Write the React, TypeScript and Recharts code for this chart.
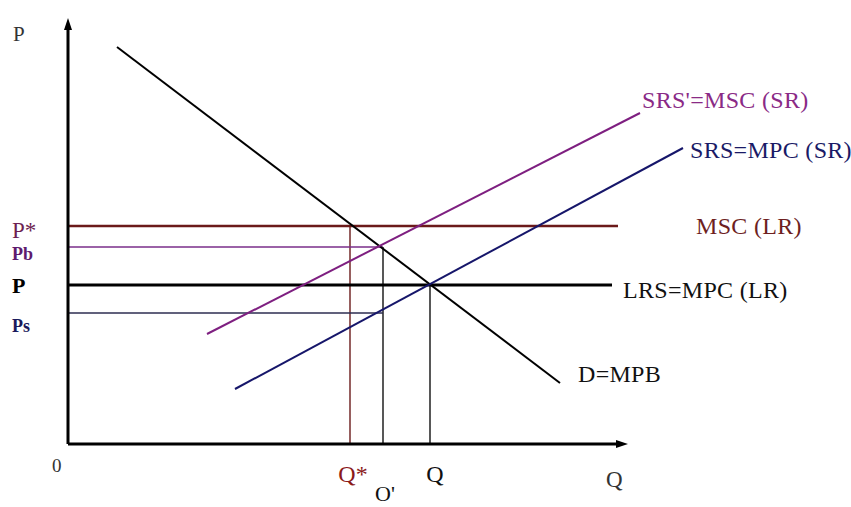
import { ComposedChart, Line, XAxis, YAxis, ReferenceLine } from "recharts";

// price levels (P axis units)
const P_STAR = 21.8;
const P_B = 19.7;
const P_EQ = 15.9;
const P_S = 13.1;
const P_MAX = 42.6;

// quantities (Q axis units)
const Q_STAR = 28.2;
const Q_PRIME = 31.5;
const Q_EQ = 36.2;
const Q_AXIS_END = 56;
const Q_MAX = 70;

const demand = [
  { q: 4.9, p: 39.7 },
  { q: 49.2, p: 6.1 },
];
const srsSocial = [
  { q: 13.9, p: 11.0 },
  { q: 57.2, p: 33.1 },
];
const srsPrivate = [
  { q: 16.7, p: 5.5 },
  { q: 61.5, p: 29.6 },
];
const mscLong = [
  { q: 0, p: P_STAR },
  { q: 55.0, p: P_STAR },
];
const lrsLong = [
  { q: 0, p: P_EQ },
  { q: 54.4, p: P_EQ },
];
const pbLine = [
  { q: 0, p: P_B },
  { q: Q_PRIME, p: P_B },
];
const psLine = [
  { q: 0, p: P_S },
  { q: Q_PRIME, p: P_S },
];

const priceTicks = [P_S, P_EQ, P_B, P_STAR];
const priceLabels = ["Ps", "P", "Pb", "P*"];
const qtyTicks = [Q_STAR, Q_PRIME, Q_EQ];
const qtyLabels = ["Q*", "O'", "Q"];

const FONT = "'Liberation Serif', 'Times New Roman', serif";

const priceStyle: Record<string, any> = {
  "P*": { fill: "#6e1f52", size: 23, weight: 400, dy: 12 },
  Pb: { fill: "#5e1a6e", size: 18, weight: 700, dy: 13 },
  P: { fill: "#000", size: 22, weight: 700, dy: 8 },
  Ps: { fill: "#1a1a5c", size: 18, weight: 700, dy: 19 },
};
const qtyStyle: Record<string, any> = {
  "Q*": { fill: "#8b1a1a", dx: 3, dy: 38, size: 24 },
  "O'": { fill: "#111", dx: 2, dy: 57, size: 22 },
  Q: { fill: "#111", dx: 5, dy: 38, size: 24 },
};

const PriceTick = (props: any) => {
  const i = priceTicks.indexOf(props.payload.value);
  const name = priceLabels[i];
  const s = priceStyle[name];
  return (
    <text x={12} y={props.y + s.dy} fill={s.fill} fontSize={s.size} fontWeight={s.weight} fontFamily={FONT}>
      {name}
    </text>
  );
};

const QtyTick = (props: any) => {
  const i = qtyTicks.indexOf(props.payload.value);
  const name = qtyLabels[i];
  const s = qtyStyle[name];
  return (
    <text x={props.x + s.dx} y={props.y + s.dy - 8} textAnchor="middle" fill={s.fill} fontSize={s.size} fontFamily={FONT}>
      {name}
    </text>
  );
};

const endLabel = (text: string, color: string, dx: number, dy: number, n: number) => (props: any) => {
  if (props.index !== n - 1) return null;
  return (
    <text x={props.x + dx} y={props.y + dy} fill={color} fontSize={24} fontFamily={FONT} letterSpacing={0.3}>
      {text}
    </text>
  );
};

const Arrow = (dir: "up" | "right") => (props: any) => {
  const { x1, y1, x2, y2 } = props;
  const head =
    dir === "up"
      ? `${x2},${y2} ${x2 - 4},${y2 + 12} ${x2 + 4},${y2 + 12}`
      : `${x2},${y2} ${x2 - 12},${y2 - 4} ${x2 - 12},${y2 + 4}`;
  return (
    <g>
      <line x1={x1} y1={y1} x2={dir === "up" ? x2 : x2 - 8} y2={dir === "up" ? y2 + 8 : y2} stroke="#000" strokeWidth={3} />
      <polygon points={head} fill="#000" />
    </g>
  );
};

const App = () => {
  return (
    <div style={{ position: "absolute", left: 0, top: 0, background: "#fff" }}>
      <ComposedChart width={851} height={507} margin={{ top: 18, right: 83, bottom: 0, left: 0 }}>
        <XAxis
          type="number"
          dataKey="q"
          domain={[0, Q_MAX]}
          ticks={qtyTicks}
          interval={0}
          axisLine={false}
          tickLine={false}
          tick={<QtyTick />}
          height={63}
          allowDataOverflow
        />
        <YAxis
          type="number"
          dataKey="p"
          domain={[0, P_MAX]}
          ticks={priceTicks}
          interval={0}
          axisLine={false}
          tickLine={false}
          tick={<PriceTick />}
          width={68}
          allowDataOverflow
        />

        {/* guide lines */}
        <ReferenceLine segment={[{ x: Q_STAR, y: 0 }, { x: Q_STAR, y: P_STAR }]} stroke="#6a1a1a" strokeWidth={1.4} />
        <ReferenceLine segment={[{ x: Q_PRIME, y: 0 }, { x: Q_PRIME, y: P_B }]} stroke="#111" strokeWidth={1.4} />
        <ReferenceLine segment={[{ x: Q_EQ, y: 0 }, { x: Q_EQ, y: P_EQ }]} stroke="#111" strokeWidth={1.4} />
        <Line data={pbLine} dataKey="p" stroke="#7a2e8a" strokeWidth={1.4} dot={false} isAnimationActive={false} />
        <Line data={psLine} dataKey="p" stroke="#2c2c50" strokeWidth={1.4} dot={false} isAnimationActive={false} />

        {/* curves */}
        <Line
          data={mscLong}
          dataKey="p"
          stroke="#6b1a1a"
          strokeWidth={2.5}
          dot={false}
          isAnimationActive={false}
          label={endLabel("MSC (LR)", "#6e1f1f", 78, 8, mscLong.length)}
        />
        <Line
          data={lrsLong}
          dataKey="p"
          stroke="#000"
          strokeWidth={3}
          dot={false}
          isAnimationActive={false}
          label={endLabel("LRS=MPC (LR)", "#111", 11, 13, lrsLong.length)}
        />
        <Line
          data={demand}
          dataKey="p"
          stroke="#000"
          strokeWidth={2}
          dot={false}
          isAnimationActive={false}
          label={endLabel("D=MPB", "#111", 18, -1, demand.length)}
        />
        <Line
          data={srsSocial}
          dataKey="p"
          stroke="#7e1f80"
          strokeWidth={2}
          dot={false}
          isAnimationActive={false}
          label={endLabel("SRS'=MSC (SR)", "#8a2a86", 2, -5, srsSocial.length)}
        />
        <Line
          data={srsPrivate}
          dataKey="p"
          stroke="#16166a"
          strokeWidth={2}
          dot={false}
          isAnimationActive={false}
          label={endLabel("SRS=MPC (SR)", "#1a1a66", 7, 10, srsPrivate.length)}
        />

        {/* axes with arrow heads */}
        <ReferenceLine segment={[{ x: 0, y: 0 }, { x: 0, y: P_MAX }]} shape={Arrow("up")} />
        <ReferenceLine segment={[{ x: 0, y: 0 }, { x: Q_AXIS_END, y: 0 }]} shape={Arrow("right")} />
      </ComposedChart>
      <div style={{ position: "absolute", left: 13, top: 22, fontFamily: FONT, fontSize: 21, color: "#333", lineHeight: "24px" }}>P</div>
      <div style={{ position: "absolute", left: 52, top: 455, fontFamily: FONT, fontSize: 19, color: "#333", lineHeight: "22px" }}>0</div>
      <div style={{ position: "absolute", left: 606, top: 467, fontFamily: FONT, fontSize: 23, color: "#333", lineHeight: "26px" }}>Q</div>
    </div>
  );
};

export default App;
